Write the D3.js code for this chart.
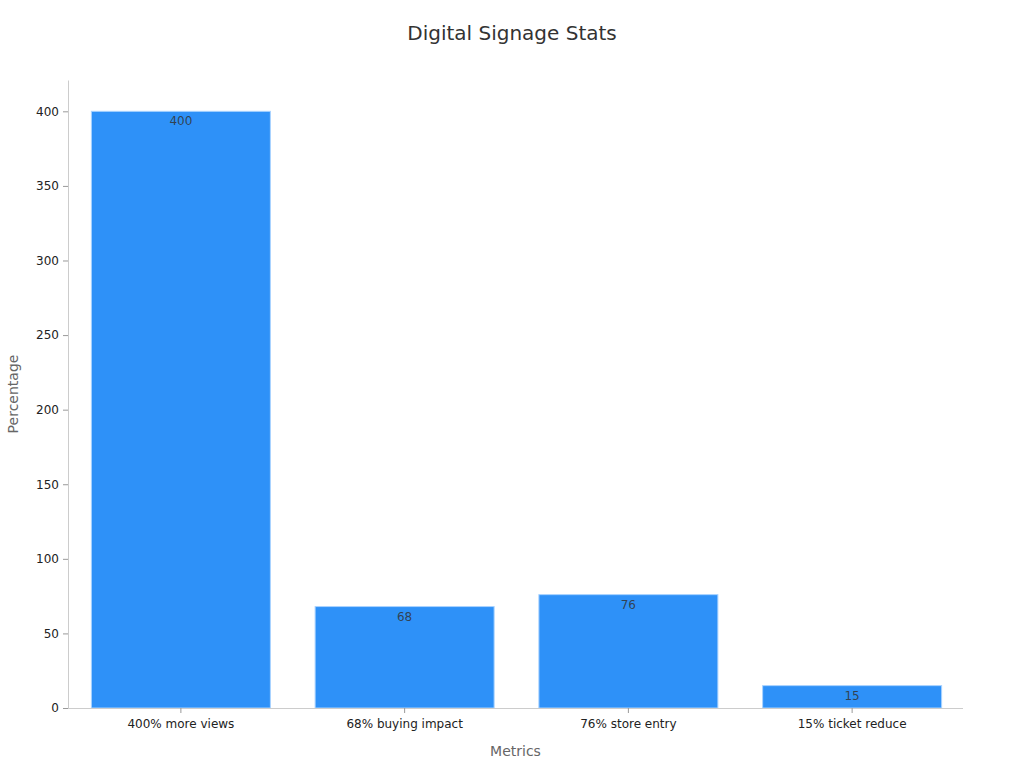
<!DOCTYPE html>
<html>
<head>
<meta charset="utf-8">
<script src="https://cdn.jsdelivr.net/npm/d3@7"></script>
<style>
  body { margin: 0; background: #fff; font-family: "DejaVu Sans", sans-serif; }
</style>
</head>
<body>
<div id="chart"></div>
<script>
var categories = ["400% more views", "68% buying impact", "76% store entry", "15% ticket reduce"];
var values = [400, 68, 76, 15];
var yTicks = [0, 50, 100, 150, 200, 250, 300, 350, 400];

var margin = {top: 80, right: 61, bottom: 60, left: 68};
var width = 1024 - margin.left - margin.right;
var height = 768 - margin.top - margin.bottom;

var svg = d3.select("#chart")
  .append("svg")
  .attr("width", 1024)
  .attr("height", 768);

var g = svg.append("g")
  .attr("transform", "translate(" + margin.left + "," + margin.top + ")");

var xScale = d3.scaleBand()
  .domain(categories)
  .range([1, width + 1])
  .paddingInner(0.2)
  .paddingOuter(0.1);

var yScale = d3.scaleLinear()
  .domain([0, 421])
  .range([height, 0]);

// bars
g.selectAll(".bar")
  .data(values)
  .enter().append("rect")
  .attr("class", "bar")
  .attr("x", function(d, i) { return xScale(categories[i]); })
  .attr("y", function(d) { return yScale(d); })
  .attr("width", xScale.bandwidth())
  .attr("height", function(d) { return height - yScale(d); })
  .attr("fill", "#2e91f8")
  .attr("stroke", "#a9d3ff")
  .attr("stroke-width", 1);

// value labels
g.selectAll(".label")
  .data(values)
  .enter().append("text")
  .attr("x", function(d, i) { return xScale(categories[i]) + xScale.bandwidth() / 2; })
  .attr("y", function(d) { return yScale(d) + 14; })
  .attr("text-anchor", "middle")
  .attr("font-size", 12)
  .attr("fill", "#333")
  .attr("fill-opacity", 0.85)
  .text(function(d) { return d; });

// x axis
var xAxis = g.append("g")
  .attr("transform", "translate(0," + height + ")")
  .call(d3.axisBottom(xScale).tickSize(5).tickPadding(6).tickSizeOuter(0));
xAxis.select(".domain").attr("stroke", "#ccc").attr("d", "M0,0.5H" + width);
xAxis.selectAll(".tick line").attr("stroke", "#999");
xAxis.selectAll(".tick text").attr("font-size", 12).attr("fill", "#222")
  .attr("font-family", "DejaVu Sans");

// y axis
var yAxis = g.append("g")
  .call(d3.axisLeft(yScale).tickValues(yTicks).tickSize(5).tickPadding(4).tickSizeOuter(0));
yAxis.select(".domain").attr("stroke", "#ccc");
yAxis.selectAll(".tick line").attr("stroke", "#999");
yAxis.selectAll(".tick text").attr("font-size", 12).attr("fill", "#222")
  .attr("font-family", "DejaVu Sans");

// titles
svg.append("text")
  .attr("x", 512)
  .attr("y", 40)
  .attr("text-anchor", "middle")
  .attr("font-size", 20)
  .attr("fill", "#333")
  .text("Digital Signage Stats");

svg.append("text")
  .attr("x", margin.left + width / 2)
  .attr("y", 756)
  .attr("text-anchor", "middle")
  .attr("font-size", 14)
  .attr("fill", "#666")
  .text("Metrics");

svg.append("text")
  .attr("transform", "translate(18," + (margin.top + height / 2) + ") rotate(-90)")
  .attr("text-anchor", "middle")
  .attr("font-size", 14)
  .attr("fill", "#666")
  .text("Percentage");
</script>
</body>
</html>
